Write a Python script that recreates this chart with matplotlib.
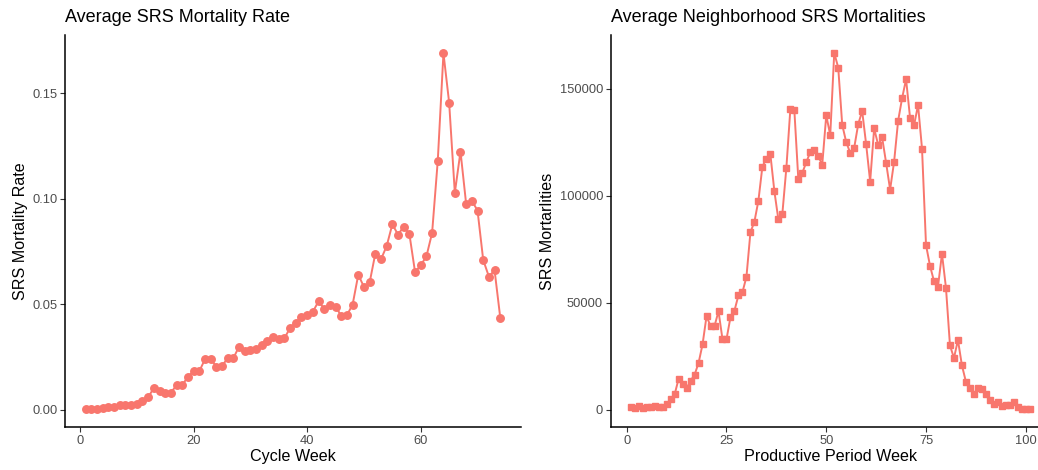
import numpy as np
import matplotlib
matplotlib.use("Agg")
import matplotlib.pyplot as plt

plt.rcParams['font.family'] = ['Liberation Sans', 'DejaVu Sans']

# weekly SRS mortality rate over the cycle
cycle_week = list(range(1, 75))
mortality_rate = [
    0.0003, 0.0002, 0.0006, 0.0008, 0.0013, 0.0016, 0.0025, 0.0025, 0.0025, 0.0027,
    0.0040, 0.0060, 0.0104, 0.0092, 0.0082, 0.0082, 0.0117, 0.0117, 0.0158, 0.0183,
    0.0183, 0.0240, 0.0243, 0.0205, 0.0209, 0.0245, 0.0245, 0.0300, 0.0280, 0.0284,
    0.0290, 0.0308, 0.0329, 0.0348, 0.0338, 0.0340, 0.0389, 0.0414, 0.0439, 0.0450,
    0.0465, 0.0515, 0.0480, 0.0496, 0.0490, 0.0446, 0.0449, 0.0499, 0.0641, 0.0583,
    0.0604, 0.0741, 0.0714, 0.0777, 0.0880, 0.0831, 0.0869, 0.0834, 0.0653, 0.0686,
    0.0728, 0.0839, 0.1182, 0.1691, 0.1457, 0.1029, 0.1225, 0.0975, 0.0992, 0.0945,
    0.0711, 0.0632, 0.0662, 0.0438,
]

# neighborhood SRS mortalities per productive period week
period_week = list(range(1, 102))
mortalities = [
    1560, 780, 1875, 1100, 1400, 1250, 1700, 1250, 1250, 2650,
    5000, 7200, 14500, 12000, 10000, 13600, 16400, 21900, 30600, 43750,
    39200, 39200, 46100, 33000, 33000, 43300, 46400, 53600, 55000, 62200,
    83000, 88000, 97800, 113750, 117500, 119400, 102200, 89000, 91700, 113000,
    140500, 140200, 107800, 110800, 115800, 120470, 121560, 118440, 114690, 137660,
    128440, 166875, 160000, 133280, 125160, 120160, 122500, 133440, 139690, 124060,
    106720, 131560, 123900, 127340, 115470, 102970, 115940, 135000, 145625, 154530,
    136560, 132970, 142500, 122030, 77030, 67340, 60160, 57660, 72970, 57030,
    30160, 24220, 32660, 20780, 13125, 10310, 7190, 10310, 9840, 7340,
    4690, 2970, 3750, 1875, 2190, 2190, 3590, 1560, 625, 310,
    310,
]

COLOR = '#F8766D'


def style_axes(ax, title, xlabel, ylabel):
    for side in ['top', 'right']:
        ax.spines[side].set_visible(False)
    for side in ['left', 'bottom']:
        ax.spines[side].set_linewidth(1.1)
        ax.spines[side].set_color('black')
    ax.tick_params(axis='both', length=3.5, width=0.8, color='#333333',
                   labelcolor='#4D4D4D', labelsize=9.3, pad=2)
    ax.set_title(title, loc='left', fontsize=13, pad=10)
    ax.set_xlabel(xlabel, fontsize=11.6, labelpad=2)
    ax.set_ylabel(ylabel, fontsize=11.6, labelpad=3)


fig = plt.figure(figsize=(10.38, 4.70), dpi=100)

# left panel: mortality rate
ax1 = fig.add_axes([0.0626, 0.0915, 0.4393, 0.833])
ax1.plot(cycle_week, mortality_rate, color=COLOR, linewidth=1.4,
         marker='o', markersize=5.4)
ax1.set_xlim(-2.65, 77.65)
ax1.set_ylim(-0.0081, 0.1775)
ax1.set_xticks([0, 20, 40, 60])
ax1.set_yticks([0.0, 0.05, 0.10, 0.15])
ax1.set_yticklabels(['0.00', '0.05', '0.10', '0.15'])
style_axes(ax1, 'Average SRS Mortality Rate', 'Cycle Week', 'SRS Mortality Rate')

# right panel: total mortalities
ax2 = fig.add_axes([0.5884, 0.0915, 0.4229, 0.833])
ax2.plot(period_week, mortalities, color=COLOR, linewidth=1.4,
         marker='s', markersize=4.5)
ax2.set_xlim(-4, 106)
ax2.set_ylim(-8000, 175000)
ax2.set_xticks([0, 25, 50, 75, 100])
ax2.set_yticks([0, 50000, 100000, 150000])
ax2.set_yticklabels(['0', '50000', '100000', '150000'])
style_axes(ax2, 'Average Neighborhood SRS Mortalities', 'Productive Period Week',
           'SRS Mortarlities')

fig.savefig('out.png', dpi=100)
